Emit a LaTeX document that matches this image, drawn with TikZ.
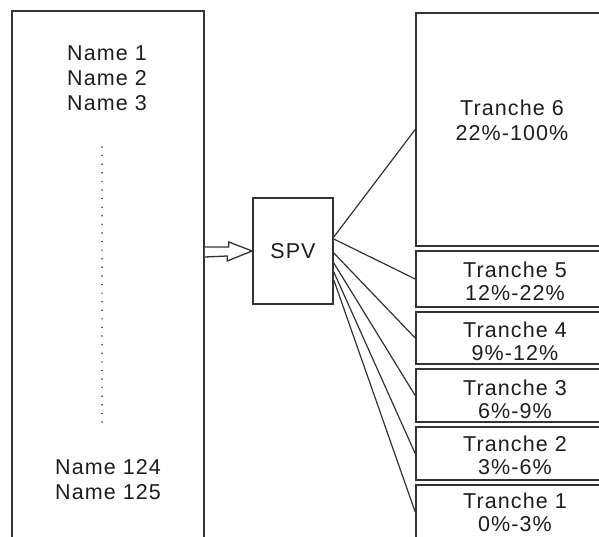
\documentclass[tikz,border=0pt]{standalone}
\usepackage{fontspec}
\setmainfont{Liberation Sans}[LetterSpace=5]
\usetikzlibrary{calc}
\definecolor{ink}{HTML}{1E1E1E}
\definecolor{edge}{HTML}{333333}
\begin{document}
\begin{tikzpicture}[x=1pt,y=1pt,
  boxsty/.style={draw=edge,line width=1.6pt,fill=none,rectangle,inner sep=0pt},
  txtsty/.style={text=ink,align=center,inner sep=0pt,font=\fontsize{21.5}{25}\selectfont},
  trtxt/.style={text=ink,align=center,inner sep=0pt,font=\fontsize{21.5}{23}\selectfont},
  conn/.style={draw=edge,line width=1.2pt},
  hollowarrow/.style={draw=edge,line width=1.3pt,fill=white,line join=miter}]
\path[use as bounding box,clip] (0,0) rectangle (599,-536);
% left box
\node[boxsty,minimum width=192pt,minimum height=549pt] (L) at (108,-285.5) {};
\node[txtsty] (names) at (107,-78) {Name 1\\Name 2\\Name 3};
\node[txtsty] (namesb) at (108,-480) {Name 124\\Name 125};
\foreach \i in {0,...,32}{\fill[edge] (102,{-147-\i*8.594}) circle (0.85pt);}
% SPV
\node[boxsty,minimum width=80pt,minimum height=106pt,txtsty] (S) at (293,-251) {SPV};
% tranche boxes
\node[boxsty,minimum width=204pt,minimum height=233pt] (T6) at (518,-129.5) {};
\node[boxsty,minimum width=204pt,minimum height=56pt] (T5) at (518,-279) {};
\node[boxsty,minimum width=204pt,minimum height=52pt] (T4) at (518,-338) {};
\node[boxsty,minimum width=204pt,minimum height=53pt] (T3) at (518,-395.5) {};
\node[boxsty,minimum width=204pt,minimum height=53pt] (T2) at (518,-453.5) {};
\node[boxsty,minimum width=204pt,minimum height=54pt] (T1) at (518,-512) {};
\node[txtsty] (t6) at (512,-120.5) {Tranche 6\\22\%-100\%};
\node[trtxt] (t5) at (515,-281) {Tranche 5\\12\%-22\%};
\node[trtxt] (t4) at (515,-341) {Tranche 4\\9\%-12\%};
\node[trtxt] (t3) at (515,-399) {Tranche 3\\6\%-9\%};
\node[trtxt] (t2) at (515,-455.6) {Tranche 2\\3\%-6\%};
\node[trtxt] (t1) at (515,-512) {Tranche 1\\0\%-3\%};
% hollow arrow from L to S
\coordinate (ahead) at (S.west);
\draw[hollowarrow] (L.east |- 0,-247) -- ++(24,0) -- ++(0,5) -- (ahead) -- ($(ahead)+(-25,-10)$) -- ++(0,5) -- (L.east |- 0,-257);
% connectors
\draw[conn] ([yshift=14pt]S.east) -- (T6.west);
\draw[conn] ([yshift=12pt]S.east) -- (T5.west);
\draw[conn] ([yshift=-2pt]S.east) -- (T4.west);
\draw[conn] ([yshift=-12pt]S.east) -- (T3.west);
\draw[conn] ([yshift=-21pt]S.east) -- (T2.west);
\draw[conn] ([yshift=-29pt]S.east) -- (T1.west);
\end{tikzpicture}
\end{document}
